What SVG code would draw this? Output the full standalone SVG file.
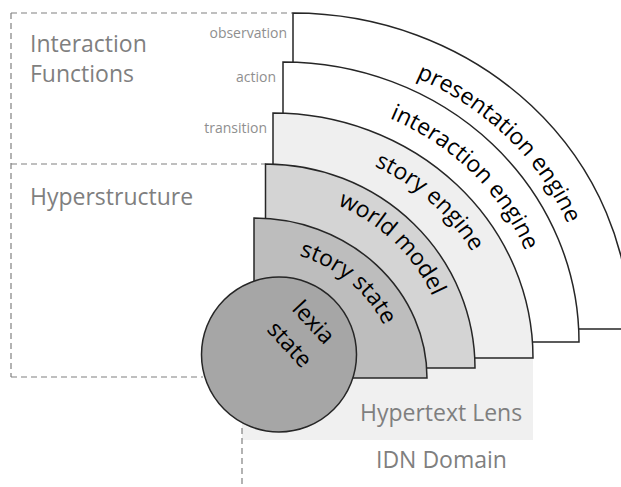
<svg xmlns="http://www.w3.org/2000/svg" width="621" height="487" viewBox="0 0 621 487">
<style>
.dash{fill:none;stroke:#808080;stroke-width:1.2;stroke-dasharray:6 4}
.shape{stroke:#262626;stroke-width:1.5;stroke-linejoin:miter}
.lbl{font-family:"Open Sans","Noto Sans",sans-serif;font-size:23px;fill:#000}
.area{font-family:"Open Sans","Noto Sans",sans-serif;font-size:23px;fill:#7f7f7f}
.small{font-family:"Open Sans","Noto Sans",sans-serif;font-size:14px;fill:#8f8f8f;text-anchor:end}
</style>
<defs>
<path id="pPres" d="M293,53 A297,276 0 0 1 590,329"/>
<path id="pInter" d="M283,97 A261,245 0 0 1 544,342"/>
<path id="pStory" d="M273,144 A229,214 0 0 1 502,358"/>
<path id="pWorld" d="M265.5,191 A182.5,177 0 0 1 448,368"/>
<path id="pState" d="M254,249 A142,129 0 0 1 396,378"/>
</defs>
<rect width="621" height="487" fill="#fff"/>
<g id="regions">
<rect id="hypertext-lens-area" x="242" y="300" width="291" height="140" fill="#f0f0f0"/>
<path class="dash" d="M11,13 H293 M11,13 V377 M11,164 H266 M11,377 H203 M242,428 V487"/>
<text class="area" x="30" y="52">Interaction</text>
<text class="area" x="30" y="82">Functions</text>
<text class="area" x="30" y="205">Hyperstructure</text>
<text class="area" x="360" y="421">Hypertext Lens</text>
<text class="area" x="376" y="468">IDN Domain</text>
</g>
<g id="connectors">
<text class="small" x="287" y="37.5">observation</text>
<text class="small" x="276" y="82">action</text>
<text class="small" x="267" y="133">transition</text>
</g>
<g id="presentation-engine">
<path class="shape" fill="#fff" d="M293,329 L293,13 A337,316 0 0 1 630,329 Z"/>
<text class="lbl"><textPath href="#pPres" startOffset="52%" text-anchor="middle">presentation engine</textPath></text>
</g>
<g id="interaction-engine">
<path class="shape" fill="#fff" d="M283,342 L283,62 A296,280 0 0 1 579,342 Z"/>
<text class="lbl"><textPath href="#pInter" startOffset="52%" text-anchor="middle">interaction engine</textPath></text>
</g>
<g id="story-engine">
<path class="shape" fill="#efefef" d="M273,358 L273,113 A260,245 0 0 1 533,358 Z"/>
<text class="lbl"><textPath href="#pStory" startOffset="49%" text-anchor="middle">story engine</textPath></text>
</g>
<g id="world-model">
<path class="shape" fill="#d4d4d4" d="M265.5,368 L265.5,164 A209.5,204 0 0 1 475,368 Z"/>
<text class="lbl"><textPath href="#pWorld" startOffset="50%" text-anchor="middle">world model</textPath></text>
</g>
<g id="story-state">
<path class="shape" fill="#bdbdbd" d="M254,378 L254,218 A173,160 0 0 1 427,378 Z"/>
<text class="lbl"><textPath href="#pState" startOffset="48%" text-anchor="middle">story state</textPath></text>
</g>
<g id="lexia-state">
<circle class="shape" cx="279" cy="354.5" r="77.5" fill="#a6a6a6"/>
<g transform="translate(302,333) rotate(47)">
<text class="lbl" x="0" y="-8" text-anchor="middle">lexia</text>
<text class="lbl" x="0" y="24.5" text-anchor="middle">state</text>
</g>
</g>
</svg>
